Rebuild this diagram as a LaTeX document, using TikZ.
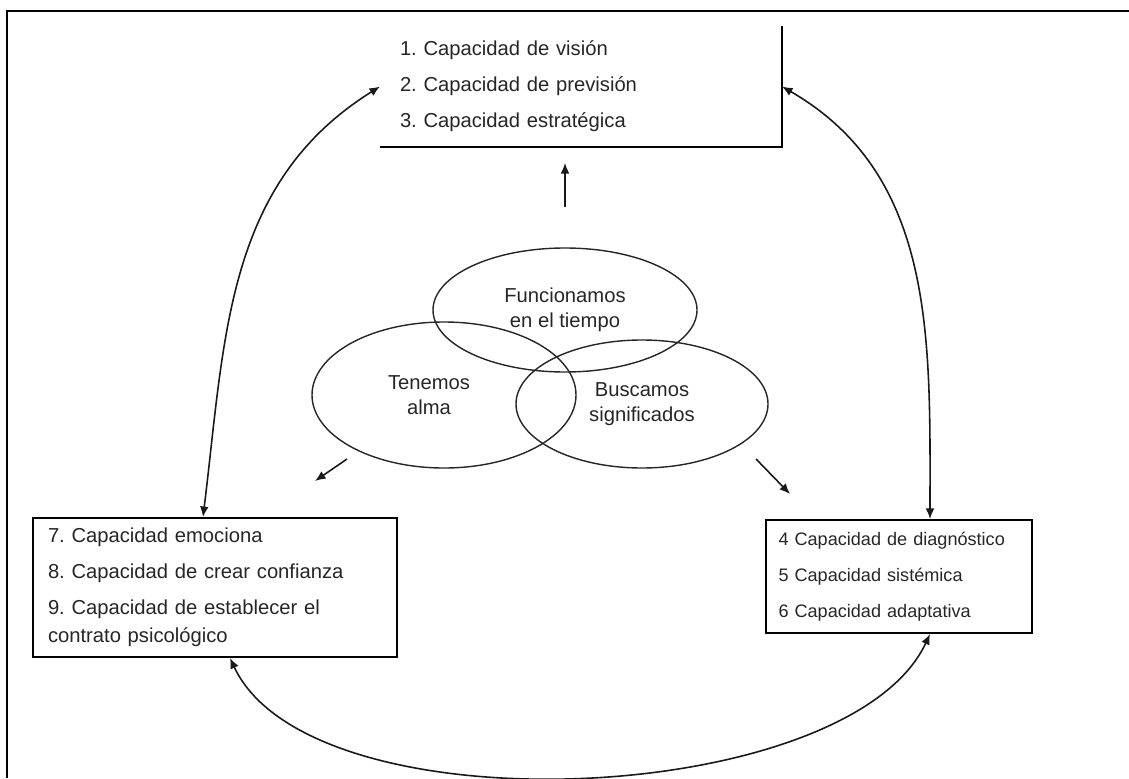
\documentclass[tikz,border=0pt]{standalone}
\usepackage{fontspec}
\setsansfont{Liberation Sans}
\usepackage{tikz}
\usetikzlibrary{shapes.geometric,arrows.meta,positioning,calc}
\frenchspacing

\begin{document}
\begin{tikzpicture}[
    font=\sffamily\fontsize{11.5}{16}\selectfont,
    capBox/.style={
        rectangle, draw=black, line width=1.1pt, text=black!85,
        align=left, inner ysep=0pt
    },
    capOval/.style={
        ellipse, draw=black!85, line width=0.8pt, inner sep=0pt,
        align=center, text=black!85, font=\sffamily\fontsize{11.5}{14}\selectfont
    },
    flowArrow/.style={
        -{Latex[length=6pt, width=5pt]}, line width=0.9pt, draw=black!90
    },
    linkArrow/.style={
        {Latex[length=6pt, width=5pt]}-{Latex[length=6pt, width=5pt]}, line width=0.9pt, draw=black!90
    }
]
\useasboundingbox (0,0) rectangle (22.58,-15.56);

% Frame (top and left sides only)
\draw[line width=1.1pt] (0.14,-15.56) |- (22.58,-0.22);

% Top: vision box (only bottom and right sides drawn)
\node[capBox, draw=none, text width=7.24cm, inner xsep=0.38cm, minimum height=2.38cm] (vision) at (11.62,-1.73) {
    1. Capacidad de visión\\[4.5pt]
    2. Capacidad de previsión\\[4.5pt]
    3. Capacidad estratégica
};
\draw[line width=1.1pt] (vision.north east) -- (vision.south east) -- (vision.south west);

% Left: emotional capacities
\node[capBox, text width=6.68cm, inner xsep=0.3cm, minimum height=2.78cm] (emocion) at (4.30,-11.75) {
    7. Capacidad emociona\\[4.5pt]
    8. Capacidad de crear confianza\\[4.5pt]
    9. Capacidad de establecer el\\
    contrato psicológico
};

% Right: systemic capacities
\node[capBox, text width=4.82cm, inner xsep=0.25cm, minimum height=2.26cm,
      font=\sffamily\fontsize{10.3}{16}\selectfont] (sistema) at (17.98,-11.53) {
    4 Capacidad de diagnóstico\\[4.5pt]
    5 Capacidad sistémica\\[4.5pt]
    6 Capacidad adaptativa
};

% Center: three overlapping ellipses
\node[capOval, minimum width=5.28cm, minimum height=2.48cm] (tiempo) at (11.30,-6.20) {Funcionamos\\en el tiempo};
\node[capOval, minimum width=5.28cm, minimum height=2.92cm] (alma) at (8.88,-7.90) {Tenemos\hspace*{0.6cm}\\alma\hspace*{0.6cm}};
\node[capOval, minimum width=5.04cm, minimum height=2.56cm] (sentido) at (12.84,-8.08) {Buscamos\\significados};

% Short arrows out of the ellipses
\coordinate (almaOut) at (6.94,-9.18);
\coordinate (almaTip) at (6.30,-9.62);
\coordinate (sentidoOut) at (15.12,-9.18);
\coordinate (sentidoTip) at (15.80,-9.88);
\draw[flowArrow, shorten <=0.8cm, shorten >=0.32cm] (tiempo.north) -- (tiempo.north |- vision.south);
\draw[flowArrow] (almaOut) -- (almaTip);
\draw[flowArrow] (sentidoOut) -- (sentidoTip);

% Curved links between the boxes
\draw[linkArrow] ([xshift=-0.24cm]emocion.north) to[out=83, in=212] (vision.west);
\draw[linkArrow] (vision.east) to[out=-30, in=90] ([xshift=0.62cm]sistema.north);
\draw[linkArrow] ([xshift=0.3cm]emocion.south) to[out=-65, in=-115, looseness=0.7] ([xshift=0.62cm]sistema.south);

\end{tikzpicture}
\end{document}
